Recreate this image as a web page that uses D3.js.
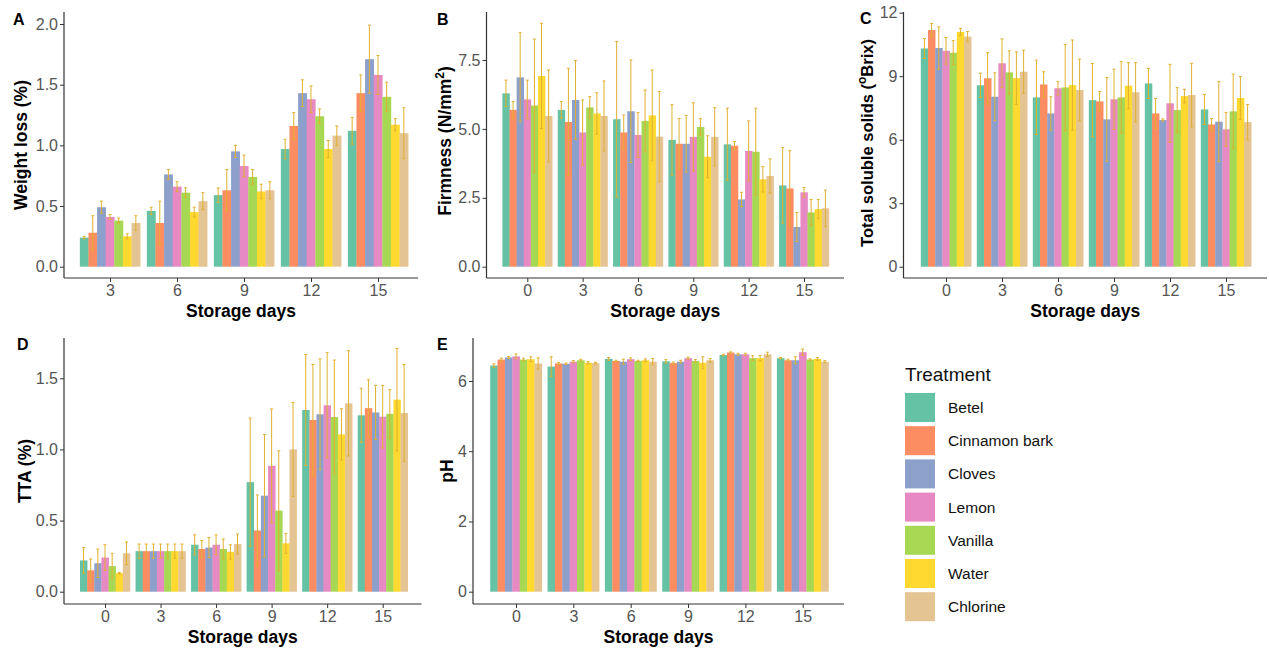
<!DOCTYPE html>
<html>
<head>
<meta charset="utf-8">
<script src="https://cdn.jsdelivr.net/npm/d3@7"></script>
<style>
  body { margin: 0; background: #fff; }
  svg { display: block; font-family: "Liberation Sans", Arial, sans-serif; }
  .tick text { fill: #555; font-size: 16px; }
  .domain { display: none; }
  .tick line { stroke: #333; }
</style>
</head>
<body>
<div id="chart"></div>
<script>
const treatments = ["Betel", "Cinnamon bark", "Cloves", "Lemon", "Vanilla", "Water", "Chlorine"];
const colors = ["#66c2a5", "#fc8d62", "#8da0cb", "#e78ac3", "#a6d854", "#ffd92f", "#e5c494"];

const daysA = [3, 6, 9, 12, 15];
const days = [0, 3, 6, 9, 12, 15];

// rows = storage day, columns = treatment (same order as treatments)
const weightLossMean = [
  [0.24, 0.28, 0.49, 0.41, 0.38, 0.25, 0.36],
  [0.46, 0.36, 0.76, 0.66, 0.61, 0.45, 0.54],
  [0.59, 0.63, 0.95, 0.83, 0.74, 0.62, 0.63],
  [0.97, 1.16, 1.43, 1.38, 1.24, 0.97, 1.08],
  [1.12, 1.43, 1.71, 1.58, 1.40, 1.17, 1.10]
];
const weightLossErr = [
  [0.01, 0.14, 0.05, 0.02, 0.02, 0.02, 0.06],
  [0.03, 0.18, 0.04, 0.04, 0.04, 0.04, 0.07],
  [0.06, 0.17, 0.05, 0.09, 0.06, 0.06, 0.07],
  [0.08, 0.11, 0.11, 0.11, 0.06, 0.07, 0.08],
  [0.11, 0.15, 0.28, 0.16, 0.12, 0.05, 0.21]
];

const firmnessMean = [
  [6.29, 5.69, 6.87, 6.07, 5.85, 6.92, 5.47],
  [5.69, 5.25, 6.05, 4.87, 5.78, 5.56, 5.47],
  [5.35, 4.87, 5.64, 4.78, 5.29, 5.49, 4.72],
  [4.60, 4.46, 4.46, 4.71, 5.07, 3.99, 4.71],
  [4.44, 4.39, 2.44, 4.20, 4.17, 3.17, 3.29],
  [2.95, 2.84, 1.44, 2.70, 1.97, 2.09, 2.12]
];
const firmnessErr = [
  [0.48, 0.30, 1.62, 0.70, 2.41, 1.91, 1.67],
  [0.30, 1.95, 1.43, 1.18, 0.39, 0.75, 1.27],
  [2.82, 0.63, 1.86, 0.81, 1.12, 1.65, 1.64],
  [1.28, 0.92, 1.03, 1.24, 0.30, 0.76, 1.06],
  [1.31, 0.15, 0.26, 1.09, 1.58, 0.46, 0.62],
  [1.37, 1.37, 0.53, 0.17, 0.47, 0.35, 0.66]
];

const tssMean = [
  [10.31, 11.18, 10.33, 10.20, 10.11, 11.09, 10.87],
  [8.57, 8.90, 8.03, 9.61, 9.18, 8.91, 9.21],
  [8.00, 8.61, 7.24, 8.43, 8.47, 8.58, 8.35],
  [7.87, 7.81, 6.96, 7.91, 8.00, 8.55, 8.24],
  [8.66, 7.24, 6.93, 7.72, 7.40, 8.06, 8.11],
  [7.43, 6.72, 6.85, 6.49, 7.34, 7.97, 6.83]
];
const tssErr = [
  [0.47, 0.31, 1.00, 0.63, 0.57, 0.17, 0.24],
  [0.57, 1.21, 1.13, 1.15, 1.02, 1.24, 1.02],
  [1.76, 0.60, 0.79, 0.31, 2.03, 2.13, 1.46],
  [1.73, 0.46, 1.98, 1.42, 1.69, 1.09, 1.40],
  [0.71, 0.71, 0.05, 1.84, 1.06, 0.32, 1.50],
  [0.71, 0.28, 1.89, 0.80, 1.76, 1.01, 0.83]
];

const ttaMean = [
  [0.22, 0.15, 0.20, 0.24, 0.18, 0.13, 0.27],
  [0.285, 0.285, 0.285, 0.285, 0.285, 0.285, 0.285],
  [0.33, 0.30, 0.31, 0.33, 0.30, 0.28, 0.335],
  [0.77, 0.43, 0.675, 0.885, 0.57, 0.34, 1.00],
  [1.277, 1.207, 1.247, 1.31, 1.228, 1.106, 1.324],
  [1.24, 1.29, 1.26, 1.23, 1.25, 1.35, 1.256]
];
const ttaErr = [
  [0.09, 0.08, 0.10, 0.09, 0.09, 0.005, 0.08],
  [0.05, 0.05, 0.05, 0.05, 0.05, 0.05, 0.05],
  [0.07, 0.06, 0.07, 0.07, 0.07, 0.05, 0.07],
  [0.45, 0.25, 0.43, 0.40, 0.42, 0.07, 0.33],
  [0.39, 0.39, 0.39, 0.37, 0.40, 0.18, 0.37],
  [0.19, 0.20, 0.19, 0.22, 0.17, 0.36, 0.34]
];

const phMean = [
  [6.44, 6.61, 6.67, 6.70, 6.61, 6.62, 6.50],
  [6.41, 6.50, 6.49, 6.55, 6.59, 6.52, 6.51],
  [6.63, 6.57, 6.55, 6.62, 6.57, 6.59, 6.55],
  [6.56, 6.51, 6.55, 6.65, 6.57, 6.52, 6.59],
  [6.74, 6.81, 6.76, 6.76, 6.65, 6.65, 6.76],
  [6.65, 6.59, 6.59, 6.82, 6.61, 6.63, 6.55]
];
const phErr = [
  [0.05, 0.04, 0.03, 0.07, 0.04, 0.07, 0.16],
  [0.28, 0.03, 0.02, 0.03, 0.03, 0.03, 0.02],
  [0.04, 0.02, 0.07, 0.04, 0.02, 0.04, 0.09],
  [0.05, 0.03, 0.04, 0.03, 0.04, 0.17, 0.05],
  [0.02, 0.02, 0.03, 0.03, 0.07, 0.08, 0.06],
  [0.02, 0.03, 0.10, 0.09, 0.02, 0.04, 0.03]
];

const width = 1269, height = 650;
const errColor = "#e0b030";

const svg = d3.select("#chart").append("svg")
    .attr("width", width)
    .attr("height", height);

svg.append("rect").attr("width", width).attr("height", height).attr("fill", "#fff");

// panel layout (pixels)
const panels = [
  { tag: "A", days: daysA, mean: weightLossMean, err: weightLossErr,
    yMax: 2, yTicks: [0, 0.5, 1, 1.5, 2], fmt: d3.format(".1f"),
    left: 64, right: 418, top: 12, bottom: 278, zeroY: 266.7, maxY: 24,
    x0: 110, x1: 378, tagX: 13, tagY: 25,
    title: "Weight loss (%)", titleX: 27, titleY: 145, titleSize: 17.5 },
  { tag: "B", days: days, mean: firmnessMean, err: firmnessErr,
    yMax: 7.5, yTicks: [0, 2.5, 5, 7.5], fmt: d3.format(".1f"),
    left: 486.5, right: 844, top: 12, bottom: 278, zeroY: 266.7, maxY: 60,
    x0: 527.3, x1: 804, tagX: 437, tagY: 25,
    title: "Firmness (N/mm|2|)", titleX: 451, titleY: 141, titleSize: 17.5 },
  { tag: "C", days: days, mean: tssMean, err: tssErr,
    yMax: 12, yTicks: [0, 3, 6, 9, 12], fmt: d3.format("d"),
    left: 903.5, right: 1267, top: 12, bottom: 278, zeroY: 266.7, maxY: 12.7,
    x0: 946, x1: 1226, tagX: 860, tagY: 24,
    title: "Total soluble solids (|o|Brix)", titleX: 873, titleY: 143, titleSize: 16.5 },
  { tag: "D", days: days, mean: ttaMean, err: ttaErr,
    yMax: 1.5, yTicks: [0, 0.5, 1, 1.5], fmt: d3.format(".1f"),
    left: 64, right: 421.5, top: 338, bottom: 604, zeroY: 591.7, maxY: 378.3,
    x0: 105, x1: 382.7, tagX: 17, tagY: 350,
    title: "TTA (%)", titleX: 31, titleY: 471, titleSize: 17.5 },
  { tag: "E", days: days, mean: phMean, err: phErr,
    yMax: 6, yTicks: [0, 2, 4, 6], fmt: d3.format("d"),
    left: 473, right: 844, top: 338, bottom: 604, zeroY: 591.7, maxY: 381,
    x0: 516, x1: 802.7, tagX: 437, tagY: 350,
    title: "pH", titleX: 453, titleY: 471, titleSize: 17.5 }
];

panels.forEach(p => drawPanel(p));

function drawPanel(p) {
    const g = svg.append("g");
    const first = p.days[0], last = p.days[p.days.length - 1];
    const x = d3.scaleLinear().domain([first, last]).range([p.x0, p.x1]);
    const y = d3.scaleLinear().domain([0, p.yMax]).range([p.zeroY, p.maxY]);

    const groupW = 0.9 * 3;
    const barW = groupW / treatments.length;

    // bars + error bars, one group per storage day
    p.days.forEach((day, di) => {
        const rows = treatments.map((t, ti) => ({
            ti: ti,
            v: p.mean[di][ti],
            e: p.err[di][ti]
        }));
        const dg = g.append("g");
        const bx = i => x(day - groupW / 2 + i * barW);
        dg.selectAll("rect")
            .data(rows)
            .join("rect")
            .attr("x", d => bx(d.ti))
            .attr("width", d => bx(d.ti + 1) - bx(d.ti) + 0.3)
            .attr("y", d => y(d.v))
            .attr("height", d => y(0) - y(d.v))
            .attr("fill", d => colors[d.ti]);

        const cx = d => bx(d.ti + 0.5);
        dg.selectAll("line.err")
            .data(rows)
            .join("line")
            .attr("class", "err")
            .attr("x1", cx).attr("x2", cx)
            .attr("y1", d => y(d.v - d.e))
            .attr("y2", d => y(d.v + d.e))
            .attr("stroke", errColor)
            .attr("stroke-width", 1);
        [-1, 1].forEach(sign => {
            const cls = sign > 0 ? "capt" : "capb";
            dg.selectAll("line." + cls)
                .data(rows)
                .join("line")
                .attr("class", cls)
                .attr("x1", d => cx(d) - 1.5).attr("x2", d => cx(d) + 1.5)
                .attr("y1", d => y(d.v + sign * d.e))
                .attr("y2", d => y(d.v + sign * d.e))
                .attr("stroke", errColor)
                .attr("stroke-width", 1);
        });
    });

    // axes
    g.append("g")
        .attr("transform", `translate(${p.left},0)`)
        .call(d3.axisLeft(y).tickValues(p.yTicks).tickFormat(p.fmt).tickSize(4).tickPadding(2));
    g.append("g")
        .attr("transform", `translate(0,${p.bottom})`)
        .call(d3.axisBottom(x).tickValues(p.days).tickFormat(d3.format("d")).tickSize(4).tickPadding(3));

    g.append("line")
        .attr("x1", p.left).attr("x2", p.left)
        .attr("y1", p.top).attr("y2", p.bottom)
        .attr("stroke", "#333").attr("stroke-width", 1.2);
    g.append("line")
        .attr("x1", p.left).attr("x2", p.right)
        .attr("y1", p.bottom).attr("y2", p.bottom)
        .attr("stroke", "#333").attr("stroke-width", 1.2);

    // x title
    g.append("text")
        .attr("x", (p.left + p.right) / 2)
        .attr("y", p.bottom + 39)
        .attr("text-anchor", "middle")
        .style("font-size", "17.5px")
        .style("font-weight", "bold")
        .text("Storage days");

    // y title, parts between | are superscript
    const yt = g.append("text")
        .attr("transform", `translate(${p.titleX},${p.titleY}) rotate(-90)`)
        .attr("text-anchor", "middle")
        .style("font-size", p.titleSize + "px")
        .style("font-weight", "bold");
    p.title.split("|").forEach((part, i) => {
        const s = yt.append("tspan").text(part);
        if (i % 2 === 1) s.attr("dy", -7).style("font-size", "12px");
        else if (i > 0) s.attr("dy", 7);
    });

    // panel tag
    g.append("text")
        .attr("x", p.tagX)
        .attr("y", p.tagY)
        .style("font-size", "16px")
        .style("font-weight", "bold")
        .text(p.tag);
}

// legend
const legend = svg.append("g").attr("transform", "translate(905,0)");
legend.append("text")
    .attr("x", 0).attr("y", 381)
    .style("font-size", "19px")
    .attr("fill", "#111")
    .text("Treatment");
const items = legend.selectAll("g.item")
    .data(treatments)
    .join("g")
    .attr("class", "item")
    .attr("transform", (d, i) => `translate(0,${393 + i * 33.2})`);
items.append("rect")
    .attr("width", 30).attr("height", 29)
    .attr("fill", (d, i) => colors[i]);
items.append("text")
    .attr("x", 43).attr("y", 20)
    .style("font-size", "15.5px")
    .attr("fill", "#111")
    .text(d => d);
</script>
</body>
</html>
